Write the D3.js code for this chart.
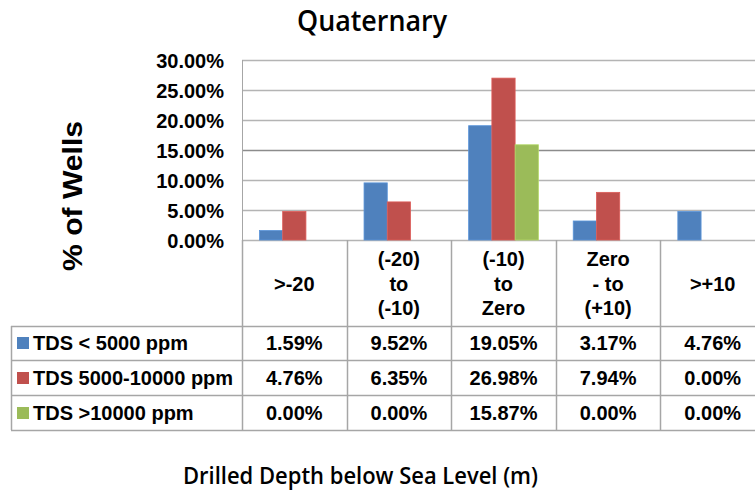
<!DOCTYPE html>
<html>
<head>
<meta charset="utf-8">
<script src="https://cdn.jsdelivr.net/npm/d3@7"></script>
<style>
  body { margin: 0; background: #fff; }
  svg { display: block; }
</style>
</head>
<body>
<div id="chart"></div>
<script>
// chart data
var categories = [">-20", "(-20) to (-10)", "(-10) to Zero", "Zero - to (+10)", ">+10"];
var categoryLines = [[">-20"], ["(-20)", "to", "(-10)"], ["(-10)", "to", "Zero"], ["Zero", "- to", "(+10)"], [">+10"]];
var seriesNames = ["TDS < 5000 ppm", "TDS 5000-10000 ppm", "TDS >10000 ppm"];
var seriesColors = ["#4F81BD", "#C0504D", "#9BBB59"];
var lowTDS = [1.59, 9.52, 19.05, 3.17, 4.76];
var midTDS = [4.76, 6.35, 26.98, 7.94, 0.00];
var highTDS = [0.00, 0.00, 15.87, 0.00, 0.00];
var yTicks = [0, 5, 10, 15, 20, 25, 30];

var seriesValues = [lowTDS, midTDS, highTDS];

var W = 755, H = 490;
var plot = { left: 242, right: 765, top: 60, bottom: 240 };
var tableLeft = 11;
var headerBottom = 326;
var rowEdges = [326, 360, 395, 430];

var svg = d3.select("#chart")
  .append("svg")
  .attr("width", W)
  .attr("height", H);

var x = d3.scaleBand()
  .domain(categories)
  .range([plot.left, plot.right])
  .padding(0);

var xInner = d3.scaleBand()
  .domain(d3.range(seriesNames.length))
  .range([0, x.bandwidth()])
  .paddingInner(0)
  .paddingOuter(0.75);

var y = d3.scaleLinear()
  .domain([0, 30])
  .range([plot.bottom, plot.top]);

var boldFont = "'Liberation Sans', Arial, sans-serif";

// title
svg.append("text")
  .attr("x", 372)
  .attr("y", 31)
  .attr("text-anchor", "middle")
  .attr("textLength", 150)
  .attr("lengthAdjust", "spacingAndGlyphs")
  .style("font-family", "'Open Sans', sans-serif")
  .style("font-weight", 600)
  .style("font-size", "28px")
  .text("Quaternary");

// gridlines
svg.append("g")
  .selectAll("line")
  .data(yTicks)
  .enter()
  .append("line")
  .attr("x1", plot.left)
  .attr("x2", plot.right)
  .attr("y1", function (d) { return Math.round(y(d)) + 0.5; })
  .attr("y2", function (d) { return Math.round(y(d)) + 0.5; })
  .style("stroke", function (d) { return d === 15 ? "#8c8c8c" : "#b4b4b4"; })
  .style("stroke-width", 1.3);

// y axis line
svg.append("line")
  .attr("x1", plot.left + 0.5).attr("x2", plot.left + 0.5)
  .attr("y1", plot.top).attr("y2", plot.bottom)
  .style("stroke", "#a6a6a6");

// y axis
var yAxis = svg.append("g")
  .attr("transform", "translate(" + (plot.left - 18) + ",0)")
  .call(d3.axisLeft(y).tickValues(yTicks).tickSize(0).tickPadding(0)
    .tickFormat(function (d) { return d3.format(".2f")(d) + "%"; }));
yAxis.select(".domain").remove();
yAxis.selectAll("text")
  .style("font-family", boldFont)
  .style("font-weight", "bold")
  .style("font-size", "20px")
  .attr("fill", "#000")
  .attr("dy", "0.35em");

// y axis title
svg.append("text")
  .attr("transform", "translate(82,196) rotate(-90)")
  .attr("text-anchor", "middle")
  .attr("textLength", 150)
  .attr("lengthAdjust", "spacingAndGlyphs")
  .style("font-family", boldFont)
  .style("font-weight", "bold")
  .style("font-size", "28px")
  .text("% of Wells");

// bars
var groups = svg.append("g")
  .selectAll("g")
  .data(seriesValues)
  .enter()
  .append("g");

groups.selectAll("rect")
  .data(function (vals, si) {
    return vals.map(function (v, ci) { return { s: si, c: categories[ci], v: v }; });
  })
  .enter()
  .append("rect")
  .filter(function (d) { return d.v > 0; })
  .attr("x", function (d) { return x(d.c) + xInner(d.s); })
  .attr("y", function (d) { return y(d.v); })
  .attr("width", xInner.bandwidth())
  .attr("height", function (d) { return y(0) - y(d.v); })
  .style("fill", function (d) { return seriesColors[d.s]; })
  .style("stroke", function (d) { return d3.color(seriesColors[d.s]).brighter(0.4); })
  .style("stroke-width", 0.8);

// data table lines
var table = svg.append("g");
var lineColor = "#a6a6a6";

table.selectAll(".hline")
  .data(rowEdges)
  .enter()
  .append("line")
  .attr("x1", tableLeft)
  .attr("x2", plot.right)
  .attr("y1", function (d) { return d + 0.5; })
  .attr("y2", function (d) { return d + 0.5; })
  .style("stroke", lineColor)
  .style("stroke-width", 1.5);

table.append("line")
  .attr("x1", tableLeft + 0.5).attr("x2", tableLeft + 0.5)
  .attr("y1", headerBottom).attr("y2", rowEdges[3])
  .style("stroke", lineColor).style("stroke-width", 1.5);

table.selectAll(".vline")
  .data(categories)
  .enter()
  .append("line")
  .attr("x1", function (d) { return Math.round(x(d)) + 0.5; })
  .attr("x2", function (d) { return Math.round(x(d)) + 0.5; })
  .attr("y1", plot.bottom)
  .attr("y2", rowEdges[3])
  .style("stroke", lineColor)
  .style("stroke-width", 1.5);

// category header labels
var header = table.selectAll(".cat")
  .data(categoryLines)
  .enter()
  .append("text")
  .attr("text-anchor", "middle")
  .style("font-family", boldFont)
  .style("font-weight", "bold")
  .style("font-size", "20px");

header.each(function (lines, i) {
  var cx = x(categories[i]) + x.bandwidth() / 2;
  var start = lines.length === 1 ? 291 : 266;
  d3.select(this).selectAll("tspan")
    .data(lines)
    .enter()
    .append("tspan")
    .attr("x", cx)
    .attr("y", function (d, j) { return start + j * 24.5; })
    .text(function (d) { return d; });
});

// table rows
var rowBase = [350, 385, 420];

table.selectAll(".key")
  .data(seriesNames)
  .enter()
  .append("rect")
  .attr("x", 17)
  .attr("y", function (d, i) { return rowBase[i] - 13; })
  .attr("width", 12)
  .attr("height", 12)
  .style("fill", function (d, i) { return seriesColors[i]; });

table.selectAll(".rowname")
  .data(seriesNames)
  .enter()
  .append("text")
  .attr("x", 33)
  .attr("y", function (d, i) { return rowBase[i]; })
  .style("font-family", boldFont)
  .style("font-weight", "bold")
  .style("font-size", "20px")
  .text(function (d) { return d; });

seriesValues.forEach(function (vals, si) {
  table.append("g")
    .selectAll("text")
    .data(vals)
    .enter()
    .append("text")
    .attr("x", function (d, ci) { return x(categories[ci]) + x.bandwidth() / 2; })
    .attr("y", rowBase[si])
    .attr("text-anchor", "middle")
    .style("font-family", boldFont)
    .style("font-weight", "bold")
    .style("font-size", "20px")
    .text(function (d) { return d3.format(".2f")(d) + "%"; });
});

// x axis title
svg.append("text")
  .attr("x", 183)
  .attr("y", 484)
  .attr("textLength", 355)
  .attr("lengthAdjust", "spacingAndGlyphs")
  .style("font-family", "'Open Sans', sans-serif")
  .style("font-weight", 600)
  .style("font-size", "24px")
  .text("Drilled Depth below Sea Level (m)");
</script>
</body>
</html>
